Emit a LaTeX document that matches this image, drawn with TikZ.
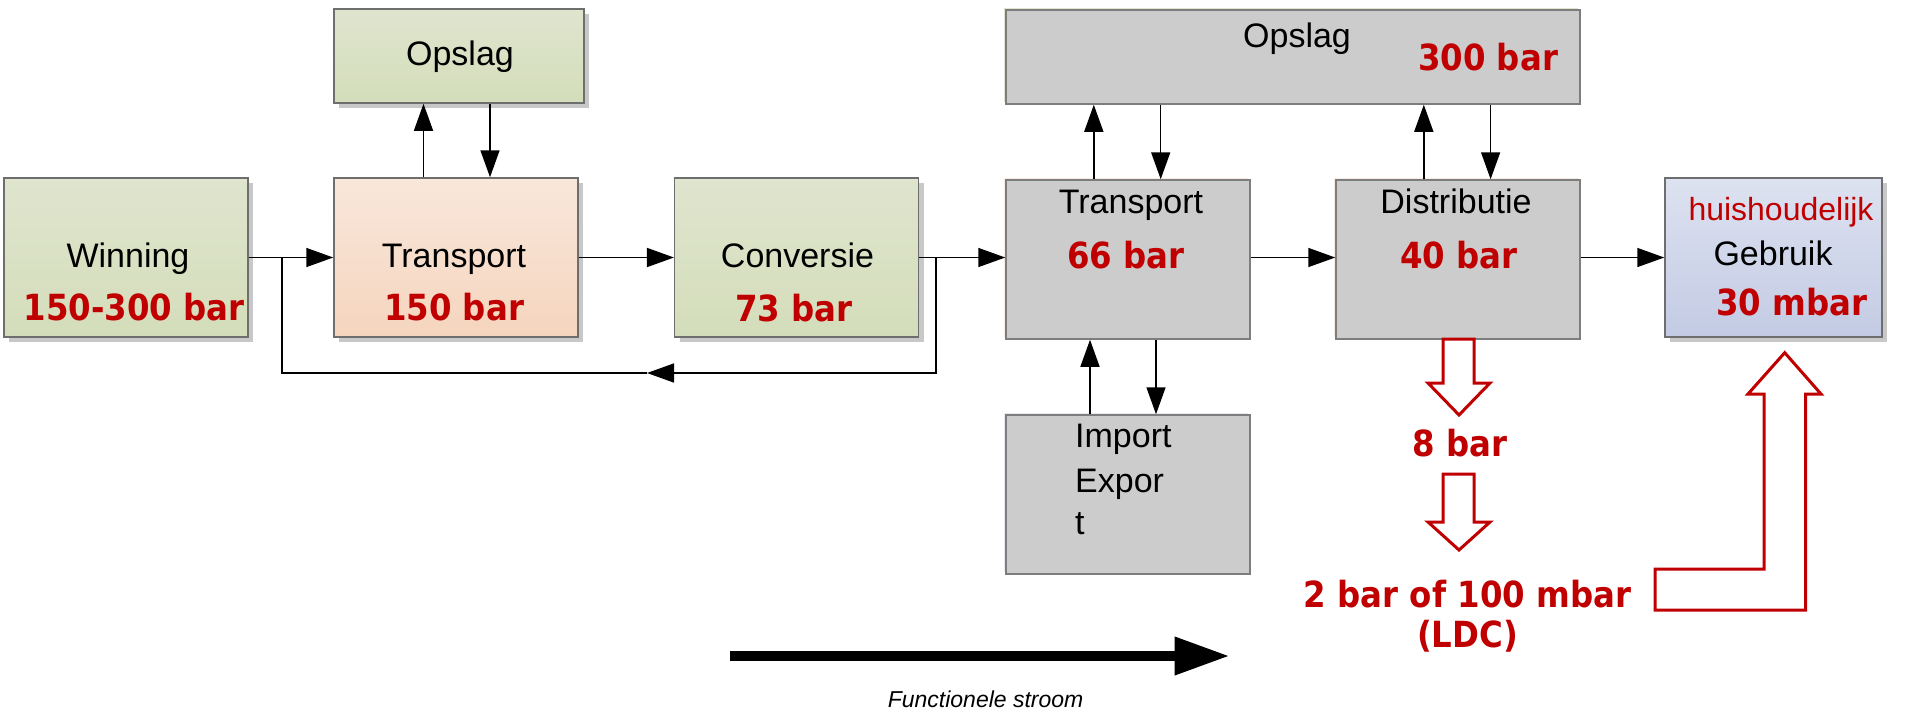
\documentclass[tikz,border=0pt]{standalone}
\usepackage{fontspec}
\setmainfont{Liberation Sans}
\newfontfamily\valfont[FakeStretch=0.9]{DejaVu Sans}
\usetikzlibrary{arrows.meta,shadows}

\definecolor{redtxt}{RGB}{192,0,0}
\definecolor{boxline}{RGB}{110,110,110}
\definecolor{gtop}{RGB}{223,229,206}
\definecolor{gbot}{RGB}{212,221,186}
\definecolor{ptop}{RGB}{249,231,219}
\definecolor{pbot}{RGB}{245,213,190}
\definecolor{btop}{RGB}{221,226,240}
\definecolor{bbot}{RGB}{195,203,228}
\definecolor{grayfill}{RGB}{204,204,204}
\definecolor{shade}{RGB}{200,200,200}

\begin{document}
\begin{tikzpicture}[x=1pt,y=-1pt,
  box/.style={draw=boxline, line width=1.5pt, inner sep=0pt,
    minimum width=244pt, minimum height=159pt},
  shadowed/.style={drop shadow={shadow xshift=5pt, shadow yshift=-5pt,
    fill=shade, opacity=1}},
  greenbox/.style={box, shadowed, top color=gtop, bottom color=gbot},
  peachbox/.style={box, shadowed, top color=ptop, bottom color=pbot},
  bluebox/.style={box, shadowed, top color=btop, bottom color=bbot},
  graybox/.style={box, fill=grayfill, draw=boxline!90},
  rim/.style={drop shadow={shadow xshift=-2pt, shadow yshift=2pt,
    fill=#1, opacity=1}},
  lbl/.style={font=\fontsize{34}{40}\selectfont, inner sep=0pt, anchor=base},
  val/.style={font=\valfont\bfseries\fontsize{36}{42}\selectfont,
    text=redtxt, inner sep=0pt, anchor=base},
  flow/.style={line width=1.5pt, -{Triangle[length=27pt,width=19pt]}},
  link/.style={line width=1.5pt},
  hollow/.style={draw=redtxt, line width=3pt, fill=white, line join=miter},
]
\useasboundingbox (0,0) rectangle (1905,712);

% ---- boxes ----
\node[greenbox] (winning) at (126,257.5) {};
\node[greenbox, minimum width=250pt, minimum height=94pt] (opslagA) at (459,56) {};
\node[peachbox] (transA) at (456,257.5) {};
\node[greenbox] (conv) at (796.7,257.5) {};
\node[graybox, rim=ptop!80] (transB) at (1128,259.5) {};
\node[graybox, rim=gtop, minimum width=574pt, minimum height=94pt] (opslagB) at (1293,57) {};
\node[graybox, rim=ptop!80] (distr) at (1458,259.5) {};
\node[bluebox, minimum width=217pt] (gebruik) at (1773.5,257.5) {};
\node[graybox, rim=btop!70] (impexp) at (1128,494.5) {};

% ---- texts ----
\node[lbl] (tWin) at (128,267) {Winning};
\node[val] (vWin) at (134,320) {150-300 bar};
\node[lbl] (tOpsA) at (460,65) {Opslag};
\node[lbl] (tTrA) at (454,267) {Transport};
\node[val] (vTrA) at (454,320) {150 bar};
\node[lbl] (tConv) at (797.5,267) {Conversie};
\node[val] (vConv) at (794,321) {73 bar};
\node[lbl] (tTrB) at (1131,213) {Transport};
\node[val] (vTrB) at (1126,268) {66 bar};
\node[lbl] (tOpsB) at (1297,47) {Opslag};
\node[val] (vOpsB) at (1488,70) {300 bar};
\node[lbl] (tDis) at (1456,213) {Distributie};
\node[val] (vDis) at (1459,268) {40 bar};
\node[lbl, text=redtxt, font=\fontsize{32}{38}\selectfont] (tHuis) at (1781,220) {huishoudelijk};
\node[lbl] (tGeb) at (1773,265) {Gebruik};
\node[val] (vGeb) at (1792,315) {30 mbar};
\node[lbl, anchor=base west] (tImp1) at (1075,447) {Import};
\node[lbl, anchor=base west] (tImp2) at (1075,492) {Expor};
\node[lbl, anchor=base west] (tImp3) at (1075,534) {t};
\node[val] (v8) at (1460,456) {8 bar};
\node[val] (v2) at (1467.5,607) {2 bar of 100 mbar};
\node[val] (vLDC) at (1467.5,647) {(LDC)};
\node[lbl, font=\itshape\fontsize{23}{28}\selectfont] (tFlow) at (985.6,707) {Functionele stroom};

% ---- main chain, all on one level ----
\coordinate (lvl) at (0,257.5);
\draw[flow] (winning.east) -- (transA.west);
\draw[flow] (transA.east) -- (conv.west);
\draw[flow] (conv.east) -- (transB.west |- lvl);
\draw[flow] (transB.east |- lvl) -- (distr.west |- lvl);
\draw[flow] (distr.east |- lvl) -- (gebruik.west);

% ---- feedback loop from Conversie back to the first junction ----
\coordinate (fbR) at (936,257.5);
\coordinate (fbL) at (282,257.5);
\coordinate (fbMid) at (647,373);
\draw[flow] (fbR) |- (fbMid);
\draw[link] (fbMid) -| (fbL);

% ---- storage links ----
\coordinate (xa1) at (423.5,0);
\coordinate (xa2) at (490,0);
\draw[flow] (transA.north -| xa1) -- (opslagA.south -| xa1);
\draw[flow] (opslagA.south -| xa2) -- (transA.north -| xa2);

\coordinate (xb1) at (1093.8,0);
\coordinate (xb2) at (1160.7,0);
\draw[flow] (transB.north -| xb1) -- (opslagB.south -| xb1);
\draw[flow] (opslagB.south -| xb2) -- (transB.north -| xb2);

\coordinate (xc1) at (1423.8,0);
\coordinate (xc2) at (1490.6,0);
\draw[flow] (distr.north -| xc1) -- (opslagB.south -| xc1);
\draw[flow] (opslagB.south -| xc2) -- (distr.north -| xc2);

% ---- import / export links ----
\coordinate (xd1) at (1090,0);
\coordinate (xd2) at (1156,0);
\draw[flow] (impexp.north -| xd1) -- (transB.south -| xd1);
\draw[flow] (transB.south -| xd2) -- (impexp.north -| xd2);

% ---- pressure reduction arrows ----
\draw[hollow] (1443,339) -- (1443,383) -- (1428,383) -- (1459,415)
  -- (1490,383) -- (1474,383) -- (1474,339) -- cycle;
\draw[hollow] (1443,474) -- (1443,522) -- (1428,522) -- (1459,550)
  -- (1490,522) -- (1474,522) -- (1474,474) -- cycle;
\draw[hollow] (1655,569) -- (1764,569) -- (1764,394) -- (1748,394)
  -- (1784.7,352.7) -- (1821,394) -- (1805.7,394) -- (1805.7,610)
  -- (1655,610) -- cycle;

% ---- functional flow arrow ----
\coordinate (fsA) at (730,656);
\coordinate (fsB) at (1229.6,656);
\draw[line width=10pt, -{Triangle[length=55pt,width=36pt]}] (fsA) -- (fsB);
\end{tikzpicture}
\end{document}
